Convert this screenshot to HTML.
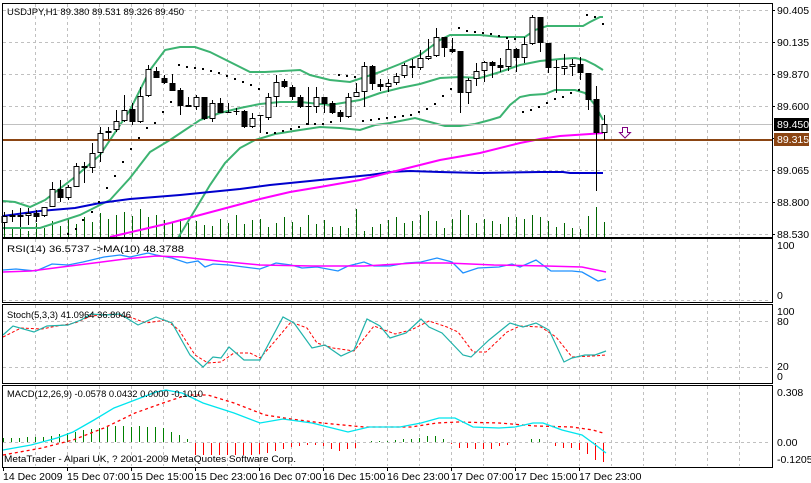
<!DOCTYPE html>
<html><head><meta charset="utf-8"><style>
html,body{margin:0;padding:0;background:#fff;}
svg{display:block;font-family:"Liberation Sans",sans-serif;}
</style></head><body>
<svg id="s" width="811" height="483" xmlns="http://www.w3.org/2000/svg">
<rect width="811" height="483" fill="#fff"/>
<g id="grid" stroke="#c0c0c0" stroke-dasharray="3,3" stroke-width="1" fill="none"></g>
<g id="ind"></g>
<g id="cand"></g>
<g id="frame" fill="none" stroke="#000"></g>
<g font-size="10.5" fill="#000">
<text x="7" y="15" font-size="9.6" textLength="177" lengthAdjust="spacingAndGlyphs">USDJPY,H1  89.380 89.531 89.326 89.450</text>
<text x="777" y="14">90.405</text>
<text x="777" y="46">90.135</text>
<text x="777" y="78">89.870</text>
<text x="777" y="110">89.600</text>
<text x="777" y="174">89.065</text>
<text x="777" y="206">88.800</text>
<text x="777" y="238">88.530</text>
<rect x="774" y="118" width="35" height="13" fill="#000"/>
<text x="777" y="128" fill="#fff">89.450</text>
<rect x="774" y="133" width="35" height="13" fill="#8b4513"/>
<text x="777" y="143" fill="#fff">89.315</text>
<text x="7" y="252" font-size="9.6" textLength="177" lengthAdjust="spacingAndGlyphs">RSI(14) 36.5737  -&gt;MA(10) 48.3788</text>
<text x="777" y="249">100</text>
<text x="777" y="299">0</text>
<text x="7" y="318" font-size="9.6" textLength="124" lengthAdjust="spacingAndGlyphs">Stoch(5,3,3) 41.0964 36.8046</text>
<text x="777" y="315">100</text>
<text x="777" y="325">80</text>
<text x="777" y="370">20</text>
<text x="777" y="380">0</text>
<text x="7" y="397" font-size="9.6" textLength="196" lengthAdjust="spacingAndGlyphs">MACD(12,26,9) -0.0578 0.0432 0.0000 -0.1010</text>
<text x="777" y="396">0.308</text>
<text x="777" y="446">0.00</text>
<text x="777" y="463">-0.1205</text>
<text x="4" y="462" font-size="9.6" textLength="292" lengthAdjust="spacingAndGlyphs">MetaTrader - Alpari UK, ? 2001-2009 MetaQuotes Software Corp.</text>
<text x="3" y="480">14 Dec 2009</text>
<text x="67" y="480">15 Dec 07:00</text>
<text x="131" y="480">15 Dec 15:00</text>
<text x="195" y="480">15 Dec 23:00</text>
<text x="259" y="480">16 Dec 07:00</text>
<text x="323" y="480">16 Dec 15:00</text>
<text x="387" y="480">16 Dec 23:00</text>
<text x="451" y="480">17 Dec 07:00</text>
<text x="515" y="480">17 Dec 15:00</text>
<text x="579" y="480">17 Dec 23:00</text>
</g>
</svg>
<script>
var NS="http://www.w3.org/2000/svg";
function el(p,t,a){var e=document.createElementNS(NS,t);for(var k in a)e.setAttribute(k,a[k]);document.getElementById(p).appendChild(e);return e;}
function pl(p,pts,c,w,d){var s=pts.map(function(q){return q[0]+","+q[1]}).join(" ");var a={points:s,fill:"none",stroke:c,"stroke-width":w||1};if(d)a["stroke-dasharray"]=d;el(p,"polyline",a);}
for(var k=1;k<=24;k++){var x=3.5+32*k;if(x>771)break;
 [[4,236],[239,301],[305,382],[386,466]].forEach(function(r){el("grid","line",{x1:x,y1:r[0],x2:x,y2:r[1]});});}
[10,42,74,106,170,202,234].forEach(function(y){el("grid","line",{x1:3,y1:y+.5,x2:771,y2:y+.5});});
[300.5,321.5,367.5,442.5].forEach(function(y){el("grid","line",{x1:3,y1:y,x2:771,y2:y});});
var vh=[8,10,12,6,14,9,16,11,18,13,20,15,24,18,22,25,21,28,20,22,17,15,18,14,16,12,11,18,14,22,13,17,18,10,14,20,15,10,22,13,17,10,11,9,28,6,10,13,17,20,14,16,22,26,16,9,18,27,22,14,18,16,13,20,20,18,22,20,16,10,14,9,8,21,30,15];
for(var i=0;i<vh.length;i++){var x=4.5+8*i;el("ind","line",{x1:x,y1:237,x2:x,y2:237-vh[i],stroke:"#006400"});}
pl("ind",[[3,201],[15,202],[30,207],[45,200],[75,177],[100,155],[130,110],[150,70],[165,50],[180,47],[195,47],[210,52],[230,62],[250,72],[265,72],[300,70],[310,75],[330,80],[350,82],[380,72],[400,64],[420,55],[440,40],[450,35],[480,35],[500,37],[525,37],[535,30],[547,26],[583,26],[590,22],[600,17],[603,17]],"#3cb371",2);
pl("ind",[[3,228],[40,228],[80,215],[110,200],[130,178],[150,152],[170,140],[185,130],[200,120],[220,113],[240,108],[260,104],[280,102],[300,102],[330,105],[360,100],[380,93],[400,88],[420,84],[440,78],[460,77],[480,78],[500,72],[520,65],[540,61],[560,59],[575,58],[585,60],[595,65],[603,70]],"#3cb371",2);
pl("ind",[[178,238],[195,210],[210,185],[225,163],[240,148],[255,140],[275,134],[300,130],[320,127],[340,128],[360,130],[375,125],[390,123],[415,118],[430,122],[445,126],[460,126],[475,124],[490,120],[500,117],[510,105],[520,97],[530,95],[545,94],[555,90],[575,90],[585,93],[595,105],[603,120]],"#3cb371",2);
pl("ind",[[3,216],[40,211],[75,208],[100,203],[130,199],[180,195],[210,192],[240,189],[270,185],[310,181],[340,178],[370,175],[390,172],[410,171],[440,172],[480,173],[540,172],[563,172],[570,173],[603,173]],"#0000cd",2);
pl("ind",[[110,237],[140,230],[170,223],[200,215],[230,207],[260,199],[290,192],[320,187],[360,180],[400,170],[440,160],[480,153],[520,143],[540,139],[560,136],[590,134],[603,133]],"#ff00ff",2);
el("ind","line",{x1:3,y1:124.5,x2:772,y2:124.5,stroke:"#c0c0c0"});
el("ind","rect",{x:3,y:139,width:769,height:2,fill:"#8b4513"});
var sar=[[68,234],[76,229],[83,220],[92,212],[99,202],[107,188],[115,176],[123,162],[131,149],[139,138],[147,128],[155,123],[163,112],[171,102],[179,65],[187,67],[195,68],[203,69],[211,71],[219,73],[227,76],[235,79],[243,82],[251,85],[259,89],[267,133],[275,133],[283,131],[291,129],[299,127],[307,124],[315,124],[323,124],[331,122],[339,75],[347,76],[355,77],[363,121],[371,120],[379,119],[387,118],[395,117],[403,116],[411,115],[419,112],[427,109],[435,104],[443,96],[451,89],[459,28],[467,31],[475,32],[483,33],[491,34],[499,36],[507,38],[515,39],[523,112],[531,110],[539,107],[547,103],[555,99],[563,97],[571,93],[579,90],[587,15],[595,17],[603,24]];
sar.forEach(function(q){el("ind","rect",{x:q[0]-1,y:q[1]-1,width:2,height:2,fill:"#000"});});
var C=[[1,216,223,212,230],[0,215,217,210,222],[1,215,217,208,227],[1,213,216,208,225],[0,213,217,210,222],[1,207,216,207,217],[1,189,207,182,207],[0,189,198,180,202],[1,187,198,185,200],[1,166,187,163,187],[0,166,168,162,183],[1,153,168,143,173],[1,133,153,127,162],[1,131,133,127,139],[1,121,130,110,132],[1,110,121,95,122],[0,109,122,103,125],[1,96,122,87,123],[1,69,96,65,97],[0,71,78,67,78],[0,78,83,75,84],[0,83,91,74,91],[0,90,106,88,115],[0,105,107,97,107],[1,97,107,95,110],[0,97,119,97,120],[1,103,119,100,122],[0,103,113,98,113],[0,112,113,103,113],[0,111,112,108,115],[0,111,127,110,128],[1,118,127,113,128],[0,115,116,115,133],[1,97,118,93,120],[1,82,97,75,107],[0,81,87,79,88],[0,87,97,85,100],[0,97,107,95,108],[0,106,107,87,125],[1,97,107,87,113],[0,97,104,97,113],[0,103,113,101,114],[0,112,117,110,122],[1,97,117,93,118],[1,92,97,83,97],[1,66,92,62,107],[0,66,84,65,90],[0,84,87,79,91],[1,83,87,79,92],[1,76,83,73,85],[1,65,76,63,78],[0,66,68,59,78],[1,58,68,50,70],[1,56,59,39,60],[1,37,56,28,57],[0,37,48,37,57],[0,49,52,38,53],[0,51,93,51,113],[1,80,93,78,104],[1,71,79,63,86],[1,62,71,61,82],[0,62,66,61,78],[0,65,68,58,72],[1,49,67,40,71],[0,49,58,48,72],[1,44,58,37,63],[1,17,44,15,45],[0,17,43,17,52],[0,43,68,43,73],[0,67,68,60,93],[1,66,69,54,75],[1,64,67,59,76],[0,64,73,57,80],[0,73,100,73,110],[0,99,133,86,191],[1,124,133,115,140]];
for(var i=0;i<C.length;i++){var c=C[i],x=4+8*i;
 el("cand","line",{x1:x+.5,y1:c[3],x2:x+.5,y2:c[4],stroke:"#000"});
 var h=Math.max(c[2]-c[1],1);
 if(c[0]) el("cand","rect",{x:x-2,y:c[1]+.5,width:5,height:Math.max(h-1,1),fill:"#fff",stroke:"#000"});
 else el("cand","rect",{x:x-2.5,y:c[1],width:6,height:h,fill:"#000"});}
el("cand","path",{d:"M622.5,127.5h5v5h3l-5.5,5.5l-5.5,-5.5h3z",fill:"#fff",stroke:"#800080"});
pl("ind",[[3,270],[16,269],[36,271],[52,264],[68,265],[83,262],[104,257],[120,255],[130,257],[148,253],[156,255],[172,258],[187,263],[198,261],[205,267],[213,264],[229,265],[244,267],[260,269],[276,263],[291,265],[302,268],[317,267],[338,271],[348,266],[364,262],[374,266],[390,266],[406,263],[421,262],[437,258],[452,262],[463,273],[478,268],[499,267],[512,264],[520,267],[536,260],[551,271],[572,271],[582,272],[598,281],[606,279]],"#1e90ff",1.3);
pl("ind",[[3,272],[31,271],[62,267],[94,263],[125,259],[156,256],[182,257],[218,261],[260,265],[312,266],[364,266],[416,263],[447,263],[494,265],[546,266],[582,267],[606,272]],"#ff00ff",1.5);
pl("ind",[[3,337],[21,328],[42,329],[57,326],[75,323],[91,316],[112,314],[130,317],[146,323],[166,320],[179,330],[195,355],[208,363],[221,362],[234,353],[250,353],[260,358],[270,347],[291,322],[307,328],[317,343],[333,348],[354,351],[374,326],[395,334],[411,330],[429,321],[447,327],[458,332],[473,352],[486,352],[507,332],[520,326],[541,327],[556,337],[572,357],[593,356],[606,355]],"#ff0000",1,"3,2");
pl("ind",[[3,335],[13,326],[34,332],[47,326],[68,325],[81,320],[91,314],[104,315],[120,314],[138,325],[156,317],[172,323],[190,355],[203,367],[213,357],[221,358],[229,347],[244,360],[260,360],[283,317],[294,323],[312,348],[325,345],[341,356],[354,350],[367,319],[380,326],[390,338],[406,333],[421,319],[429,327],[442,333],[463,355],[471,357],[489,340],[510,323],[523,327],[536,323],[549,330],[564,362],[572,358],[585,355],[595,355],[606,351]],"#20b2aa",1.2);
var g=[4,4,4,5,5,5,6,8,9,10,12,13,14,15,16,16,15,16,15,15,14,10,7,3];
for(var i=0;i<g.length;i++){var x=3.5+8*i;el("ind","line",{x1:x,y1:442,x2:x,y2:442-g[i],stroke:"#008000"});}
var r={195:12,203:12,211:12,219:12,227:12,235:12,243:12,251:12,259:11,267:10,275:8,283:6,291:4,299:3,307:2,315:2,323:3,331:6,339:8,347:6,355:5,451:1,459:5,467:5,475:6,483:6,491:6,499:3,507:2,555:3,563:5,571:5,579:7,587:11,595:17,603:19};
for(var k in r){el("ind","line",{x1:+k+.5,y1:443,x2:+k+.5,y2:443+r[k],stroke:"#ff0000"});}
var gg={371:1,379:1,387:1,395:2,403:3,411:3,419:4,427:6,435:6,443:3,531:3,539:3};
for(var k in gg){el("ind","line",{x1:+k+.5,y1:442,x2:+k+.5,y2:442-gg[k],stroke:"#008000"});}
pl("ind",[[3,455],[42,448],[73,440],[104,428],[135,413],[166,402],[187,395],[208,395],[234,403],[265,415],[291,419],[322,423],[364,427],[411,427],[437,423],[458,422],[499,423],[536,426],[572,427],[593,430],[603,433]],"#ff0000",1.3,"3,3");
pl("ind",[[3,450],[31,445],[57,438],[73,432],[94,420],[114,408],[135,400],[156,392],[166,390],[182,393],[203,403],[234,413],[260,423],[283,419],[312,423],[348,432],[369,427],[400,427],[421,423],[439,418],[455,418],[473,427],[499,428],[515,427],[533,423],[543,423],[562,430],[582,435],[593,443],[606,453]],"#00e5ee",1.3);
[[2,3,770,234],[2,238,770,64],[2,304,770,79],[2,385,770,82]].forEach(function(b){el("frame","rect",{x:b[0]+.5,y:b[1]+.5,width:b[2],height:b[3]});});
el("frame","line",{x1:2,y1:237.5,x2:773,y2:237.5});
[10,42,74,106,138,170,202,234].forEach(function(y){el("frame","line",{x1:772,y1:y+.5,x2:775,y2:y+.5});});
for(var k=0;k<10;k++){var x=3.5+64*k;el("frame","line",{x1:x,y1:467,x2:x,y2:471});}
</script>
</body></html>
